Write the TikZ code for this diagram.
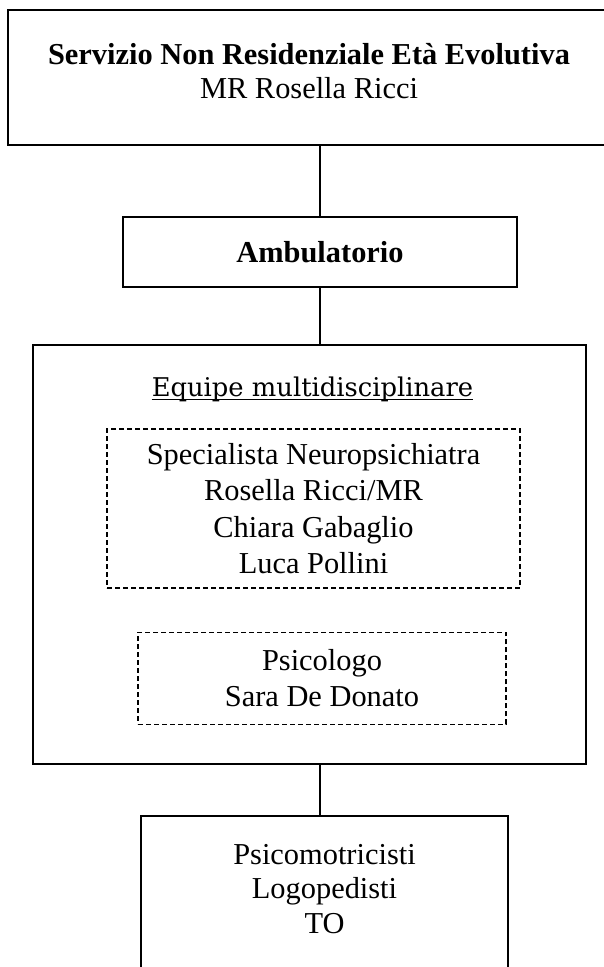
\documentclass[tikz,border=0pt]{standalone}
\usepackage{fontspec}
\setmainfont{Liberation Serif}
\newfontfamily\titlefont{DejaVu Serif}
\usetikzlibrary{positioning}

\tikzset{
  unitbox/.style={draw, line width=1.6pt, inner sep=0pt, align=center,
    font=\fontsize{30.4pt}{34.5pt}\selectfont},
  memberbox/.style={draw, line width=1.3pt, dash pattern=on 5pt off 3pt,
    inner sep=0pt, align=center, font=\fontsize{30.4pt}{36.3pt}\selectfont},
  link/.style={line width=1.2pt},
}

\begin{document}
\begin{tikzpicture}[x=1pt, y=1pt, node distance=50pt]
\useasboundingbox (0,0) rectangle (603,-967);

% Nodes
\node (servizio) [unitbox, minimum width=602pt, minimum height=135pt] at (309,-77.5)
  {\textbf{Servizio Non Residenziale Età Evolutiva}\\MR Rosella Ricci\rule[-13pt]{0pt}{0pt}};
\node (ambul) [unitbox, line width=2.6pt, minimum width=394pt, minimum height=70pt,
  below=70pt of servizio, xshift=11pt] {\textbf{Ambulatorio}};
\node (equipe) [unitbox, minimum width=553pt, minimum height=419pt,
  below=56pt of ambul, xshift=-10.5pt] {};
\node (eqtitle) [below=32pt of equipe.north, xshift=3pt, inner sep=0pt,
  font=\titlefont\fontsize{25.8pt}{30pt}\selectfont] {Equipe multidisciplinare};
\node (team) [memberbox, minimum width=413pt, minimum height=159pt,
  below=84pt of equipe.north, xshift=4pt]
  {Specialista Neuropsichiatra\\Rosella Ricci/MR\\Chiara Gabaglio\\Luca Pollini};
\node (psico) [memberbox, minimum width=368pt, minimum height=92pt,
  below=43pt of team, xshift=8.5pt] {Psicologo\\Sara De Donato};
\node (staff) [unitbox, minimum width=367pt, minimum height=165pt,
  below=50pt of equipe, xshift=15pt]
  {Psicomotricisti\\Logopedisti\\TO\rule[-19pt]{0pt}{0pt}};

% Underline of the equipe title
\draw[line width=1.1pt] ([yshift=-3pt]eqtitle.base west) -- ([yshift=-3pt]eqtitle.base east);

% Connectors
\draw[link] (ambul.north) -- (ambul.north |- servizio.south);
\draw[link] (ambul.south) -- (ambul.south |- equipe.north);
\draw[link] (equipe.south -| ambul) -- (staff.north -| ambul);

\end{tikzpicture}
\end{document}
